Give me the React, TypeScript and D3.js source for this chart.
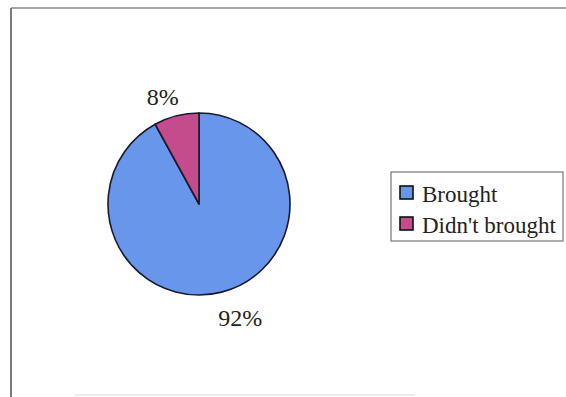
import React from "react";
import * as d3 from "d3";

const categories = ["Brought", "Didn't brought"];
const values = [92, 8];
const labels = ["92%", "8%"];
const colors = ["#6896ea", "#c44c8c"];

const W = 566;
const H = 397;

export default function App() {
  const cx = 199;
  const cy = 204;
  const r = 91;
  const pie = d3.pie<number>().sort(null).value((d) => d)(values);
  const arc = d3.arc<d3.PieArcDatum<number>>().innerRadius(0).outerRadius(r);
  const labelArc = d3
    .arc<d3.PieArcDatum<number>>()
    .innerRadius(114)
    .outerRadius(114);
  const font = "'Liberation Serif', 'Times New Roman', Times, serif";
  const legendX = 391;
  const legendY = 172;
  const rowH = 31;
  return (
    <svg
      width={W}
      height={H}
      style={{ position: "absolute", left: 0, top: 0, background: "#fff" }}
    >
      {/* frame */}
      <line x1={11} y1={8} x2={W} y2={8} stroke="#8a8a8a" strokeWidth={1.5} />
      <line x1={11} y1={8} x2={11} y2={H} stroke="#7a7a7a" strokeWidth={2} />
      <line x1={75} y1={395} x2={415} y2={395} stroke="#d8d8d8" strokeWidth={1} />
      <g transform={`translate(${cx},${cy})`}>
        {pie.map((p, i) => (
          <path
            key={categories[i]}
            d={arc(p) || ""}
            fill={colors[i]}
            stroke="#1a1a2a"
            strokeWidth={1.6}
            strokeLinejoin="round"
          />
        ))}
        {pie.map((p, i) => {
          const [lx, ly] = labelArc.centroid(p);
          const shift = lx < 0 ? -8 : 13;
          return (
            <text
              key={"l" + i}
              x={lx + shift}
              y={ly + (ly < 0 ? 3 : 4)}
              textAnchor="middle"
              dominantBaseline="central"
              style={{ fontFamily: font }}
              fontSize={24}
              fill="#222"
            >
              {labels[i]}
            </text>
          );
        })}
      </g>
      {/* legend */}
      <rect
        x={legendX}
        y={legendY}
        width={172}
        height={69}
        fill="#fff"
        stroke="#777"
        strokeWidth={1.2}
      />
      {categories.map((c, i) => (
        <g key={c} transform={`translate(${legendX}, ${legendY + 20 + i * rowH})`}>
          <rect
            x={9}
            y={-6}
            width={13}
            height={13}
            fill={colors[i]}
            stroke="#111"
            strokeWidth={1.6}
          />
          <text
            x={31}
            y={2}
            dominantBaseline="central"
            style={{ fontFamily: font }}
            fontSize={23}
            fill="#222"
          >
            {c}
          </text>
        </g>
      ))}
    </svg>
  );
}
